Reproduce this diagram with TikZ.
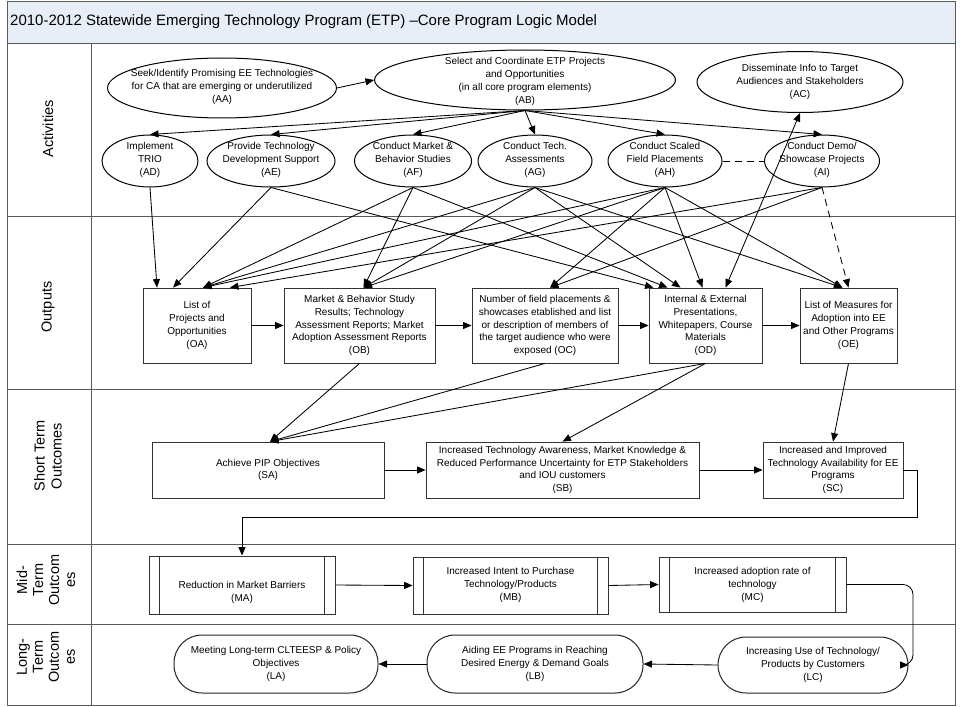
\documentclass[tikz,border=0pt]{standalone}
\usepackage{fontspec}
\setmainfont{Liberation Sans}
\usetikzlibrary{shapes.geometric,arrows.meta}
\definecolor{titlefill}{RGB}{232,238,248}
\definecolor{laneline}{RGB}{90,90,90}
\begin{document}
\begin{tikzpicture}[x=1pt,y=-1pt,
  every node/.style={font=\fontsize{10}{12.8}\selectfont},
  lane/.style={draw=laneline, line width=0.9pt},
  lanelbl/.style={rotate=90, align=center, inner sep=0pt, font=\fontsize{14.5}{16}\selectfont},
  actv/.style={draw, ellipse, line width=1pt, inner sep=0pt},
  obox/.style={draw=black!80, rectangle, line width=0.8pt, inner sep=0pt, align=center},
  pbox/.style={draw=black!80, rectangle, line width=0.8pt, inner sep=0pt, align=center},
  lbox/.style={draw=black!85, rectangle, rounded corners=28pt, line width=1pt, inner sep=0pt, align=center},
  txt/.style={align=center, inner sep=0pt, font=\fontsize{10}{13}\selectfont},
  arr/.style={-{Triangle[length=8.5pt,width=7pt]}, line width=0.85pt},
  arrboth/.style={{Triangle[length=8.5pt,width=7pt]}-{Triangle[length=8.5pt,width=7pt]}, line width=0.85pt},
  dsh/.style={dash pattern=on 7pt off 5pt, line width=0.85pt}
]
\useasboundingbox (0,0) rectangle (960,706);
% frame and lanes
\fill[titlefill] (7,1) rectangle (955,43);
\draw[lane] (7,1) rectangle (955,705);
\draw[lane] (7,43) -- (955,43);
\draw[lane] (7,216) -- (955,216);
\draw[lane] (7,389) -- (955,389);
\draw[lane] (7,544) -- (955,544);
\draw[lane] (7,624) -- (955,624);
\draw[lane] (91,43) -- (91,705);
\node[anchor=west, inner sep=0pt, font=\fontsize{15}{18}\selectfont] (title) at (10,22) {2010-2012 Statewide Emerging Technology Program (ETP) –Core Program Logic Model};
\node[lanelbl] (L1) at (48,129) {Activities};
\node[lanelbl] (L2) at (48,307) {Outputs};
\node[lanelbl, font=\fontsize{14.5}{17}\selectfont] (L3) at (48,456) {Short Term\\Outcomes};
\node[lanelbl] (L4) at (46,580) {Mid-\\Term\\Outcom\\es};
\node[lanelbl] (L5) at (46,657) {Long-\\Term\\Outcom\\es};

% activities
\node[actv, minimum width=229pt, minimum height=60pt] (AA) at (222,88) {};
\node[txt] (AAt) at (222,87) {Seek/Identify Promising EE Technologies\\for CA that are emerging or underutilized\\(AA)};
\node[actv, minimum width=301pt, minimum height=60pt] (AB) at (525,80) {};
\node[txt] (ABt) at (525,81) {Select and Coordinate ETP Projects\\and Opportunities\\(in all core program elements)\\(AB)};
\node[actv, minimum width=206pt, minimum height=61pt] (AC) at (800,82) {};
\node[txt] (ACt) at (800,82) {Disseminate Info to Target\\Audiences and Stakeholders\\(AC)};
\node[actv, minimum width=96pt, minimum height=52pt] (AD) at (150,161) {};
\node[txt] (ADt) at (150,160) {Implement\\TRIO\\(AD)};
\node[actv, minimum width=128pt, minimum height=52pt] (AE) at (271,161) {};
\node[txt] (AEt) at (271,160) {Provide Technology\\Development Support\\(AE)};
\node[actv, minimum width=117pt, minimum height=52pt] (AF) at (413,161) {};
\node[txt] (AFt) at (413,160) {Conduct Market \&\\Behavior Studies\\(AF)};
\node[actv, minimum width=114pt, minimum height=52pt] (AG) at (535,161) {};
\node[txt] (AGt) at (535,160) {Conduct Tech.\\Assessments\\(AG)};
\node[actv, minimum width=114pt, minimum height=52pt] (AH) at (665,161) {};
\node[txt] (AHt) at (665,160) {Conduct Scaled\\Field Placements\\(AH)};
\node[actv, minimum width=115pt, minimum height=52pt] (AI) at (822,161) {};
\node[txt] (AIt) at (822,160) {Conduct Demo/\\Showcase Projects\\(AI)};

% outputs
\node[obox, minimum width=108pt, minimum height=75pt] (OA) at (197,325.5) {List of\\Projects and\\Opportunities\\(OA)};
\node[obox, minimum width=151pt, minimum height=75pt] (OB) at (359.5,325.5) {Market \& Behavior Study\\Results; Technology\\Assessment Reports; Market\\Adoption Assessment Reports\\(OB)};
\node[obox, minimum width=146pt, minimum height=75pt] (OC) at (545,325.5) {Number of field placements \&\\showcases etablished and list\\or description of members of\\the target audience who were\\exposed (OC)};
\node[obox, minimum width=113pt, minimum height=75pt] (OD) at (705.5,325.5) {Internal \& External\\Presentations,\\Whitepapers, Course\\Materials\\(OD)};
\node[obox, minimum width=97pt, minimum height=75pt] (OE) at (848.5,325.5) {List of Measures for\\Adoption into EE\\and Other Programs\\(OE)};

% short term
\node[obox, minimum width=232pt, minimum height=56pt] (SA) at (268,470) {Achieve PIP Objectives\\(SA)};
\node[obox, minimum width=273pt, minimum height=56pt] (SB) at (562.5,470) {Increased Technology Awareness, Market Knowledge \&\\Reduced Performance Uncertainty for ETP Stakeholders\\and IOU customers\\(SB)};
\node[obox, minimum width=140pt, minimum height=56pt] (SC) at (833,470) {Increased and Improved\\Technology Availability for EE\\Programs\\(SC)};

% mid term
\node[pbox, minimum width=186pt, minimum height=58pt] (MA) at (242,585) {};
\node[txt] (MAt) at (242,592) {Reduction in Market Barriers\\(MA)};
\node[pbox, minimum width=195pt, minimum height=57pt] (MB) at (510.5,585.5) {};
\node[txt] (MBt) at (510.5,585) {Increased Intent to Purchase\\Technology/Products\\(MB)};
\node[pbox, minimum width=187pt, minimum height=55pt] (MC) at (752.5,584.5) {};
\node[txt] (MCt) at (752.5,585) {Increased adoption rate of\\technology\\(MC)};
\foreach \n in {MA,MB,MC}{
  \draw[line width=0.8pt, draw=black!80] ([xshift=11pt]\n.north west) -- ([xshift=11pt]\n.south west);
  \draw[line width=0.8pt, draw=black!80] ([xshift=-11pt]\n.north east) -- ([xshift=-11pt]\n.south east);
}

% long term
\node[lbox, minimum width=204pt, minimum height=58pt] (LA) at (276,664) {Meeting Long-term CLTEESP \& Policy\\Objectives\\(LA)};
\node[lbox, minimum width=216pt, minimum height=58pt] (LB) at (535,664) {Aiding EE Programs in Reaching\\Desired Energy \& Demand Goals\\(LB)};
\node[lbox, minimum width=190pt, minimum height=56pt] (LC) at (813,665) {Increasing Use of Technology/\\Products by Customers\\(LC)};

% activity arrows
\draw[arr] (AA.east) -- (AB.west);
\foreach \n in {AD,AE,AF,AG,AH,AI} \draw[arr] (AB.south) -- (\n.north);
\draw[dsh] (AH.east) -- (AI.west);
\draw[arr, dsh] (AI.south) -- (OE.north);
\draw[arrboth] ([xshift=20pt]OD.north) -- (AC.south);

\draw[arr] (AD.south) -- ([xshift=-40pt]OA.north);
\draw[arr] (AE.south) -- ([xshift=-24pt]OA.north);
\draw[arr] (AE.south) -- ([xshift=-52pt]OD.north);
\draw[arr] (AF.south) -- ([xshift=6pt]OA.north);
\draw[arr] (AF.south) -- ([xshift=4pt]OB.north);
\draw[arr] (AF.south) -- ([xshift=-38pt]OD.north);
\draw[arr] (AG.south) -- ([xshift=6pt]OA.north);
\draw[arr] (AG.south) -- ([xshift=4pt]OB.north);
\draw[arr] (AG.south) -- ([xshift=-25pt]OD.north);
\draw[arr] (AG.south) -- ([xshift=-6pt]OE.north);
\draw[arr] (AH.south) -- ([xshift=6pt]OA.north);
\draw[arr] (AH.south) -- ([xshift=4pt]OB.north);
\draw[arr] (AH.south) -- ([xshift=5pt]OC.north);
\draw[arr] (AH.south) -- ([xshift=-3pt]OD.north);
\draw[arr] (AH.south) -- ([xshift=-6pt]OE.north);
\draw[arr] (AI.south) -- ([xshift=33pt]OA.north);
\draw[arr] (AI.south) -- ([xshift=5pt]OC.north);

% output arrows
\draw[arr] (OA.east) -- (OB.west);
\draw[arr] (OB.east) -- (OC.west);
\draw[arr] (OC.east) -- (OD.west);
\draw[arr] (OD.east) -- (OE.west);
\draw[arr] (OB.south) -- ([xshift=2pt]SA.north);
\draw[arr] (OC.south) -- ([xshift=2pt]SA.north);
\draw[arr] (OD.south) -- ([xshift=2pt]SA.north);
\draw[arr] (OD.south) -- (SB.north);
\draw[arr] (OE.south) -- (SC.north);

% short term arrows
\draw[arr] (SA.east) -- (SB.west);
\draw[arr] (SB.east) -- (SC.west);
\coordinate (c1) at (917,470);
\coordinate (c2) at (917,517);
\coordinate (c3) at (242,517);
\draw[arr] (SC.east) -- (c1) -- (c2) -- (c3) -- (MA.north);

% mid term arrows
\draw[arr] (MA.east) -- (MB.west);
\draw[arr] (MB.east) -- (MC.west);
\coordinate (c4) at (913,584.5);
\coordinate (c5) at (913,665);
\draw[arr, rounded corners=10pt] (MC.east) -- (c4) -- (c5) -- (LC.east);

% long term arrows
\draw[arr] (LC.west) -- (LB.east);
\draw[arr] (LB.west) -- (LA.east);
\end{tikzpicture}
\end{document}
